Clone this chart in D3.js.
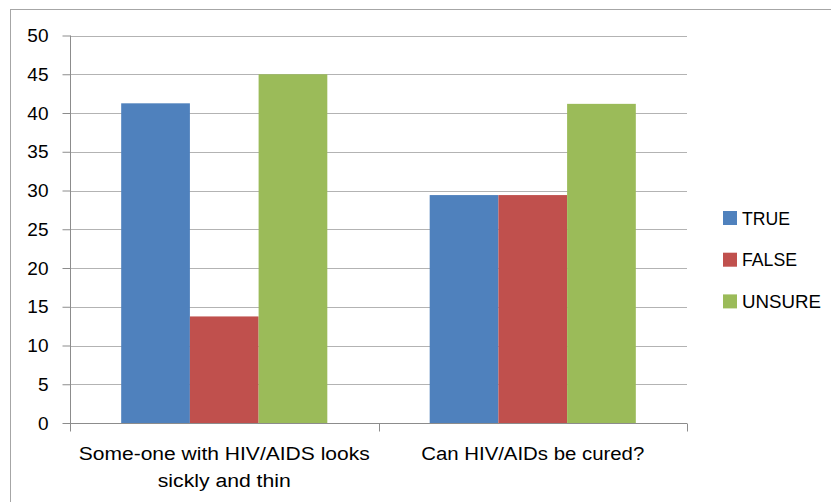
<!DOCTYPE html>
<html><head><meta charset="utf-8">
<script src="https://cdn.jsdelivr.net/npm/d3@7"></script>
<style>body{margin:0;background:#fff}svg{display:block}text{font-family:"Liberation Sans",Arial,sans-serif;fill:#000}</style>
</head><body><svg id="c" width="831" height="502"></svg>
<script>
const categories = [["Some-one with HIV/AIDS looks","sickly and thin"],["Can HIV/AIDs be cured?"]];
const seriesNames = ["TRUE","FALSE","UNSURE"];
const seriesColors = ["#4F81BD","#C0504D","#9BBB59"];
const trueVals = [41.25, 29.41];
const falseVals = [13.75, 29.41];
const unsureVals = [45, 41.18];
const yTicks = [0,5,10,15,20,25,30,35,40,45,50];
const labelWidths = [[291,133],[223]];
const legendWidths = [48,55,79];

const svg = d3.select("#c");
svg.append("rect").attr("x",10.5).attr("y",9.5).attr("width",830).attr("height",500)
  .attr("fill","#fff").attr("stroke","#a6a6a6");

const m = {l:70, r:687, t:35.5, b:423};
const y = d3.scaleLinear().domain([0,50]).range([m.b,m.t]);
const x0 = d3.scaleBand().domain(d3.range(categories.length)).range([m.l,m.r]).paddingInner(0).paddingOuter(0);
const x1 = d3.scaleBand().domain(d3.range(seriesNames.length)).range([0,x0.bandwidth()]).paddingOuter(0.745).paddingInner(0);

svg.append("g").selectAll("line").data(yTicks.filter(d=>d>0)).join("line")
  .attr("x1",m.l).attr("x2",m.r).attr("y1",d=>Math.round(y(d))+0.5).attr("y2",d=>Math.round(y(d))+0.5)
  .attr("stroke","#b3b3b3").attr("stroke-width",1);

const data = [trueVals,falseVals,unsureVals];
const g = svg.append("g");
categories.forEach((c,ci)=>{
  data.forEach((vals,si)=>{
    g.append("rect").attr("x",x0(ci)+x1(si)).attr("width",x1.bandwidth())
      .attr("y",y(vals[ci])).attr("height",y(0)-y(vals[ci]))
      .attr("fill",seriesColors[si]);
  });
});

const ya = svg.append("g").attr("transform",`translate(${m.l+0.5},0)`)
  .call(d3.axisLeft(y).tickValues(yTicks).tickSize(8).tickPadding(14));
ya.attr("font-size",null).attr("font-family",null);
ya.select(".domain").attr("stroke","#8c8c8c").attr("d",`M0,${m.t}V${m.b}`);
ya.selectAll(".tick line").attr("stroke","#8c8c8c");
ya.selectAll(".tick text").style("font-size","19px").attr("fill","#000");

const xa = svg.append("g").attr("transform",`translate(0,${Math.round(m.b)+0.5})`);
xa.append("line").attr("x1",m.l).attr("x2",m.r).attr("stroke","#8c8c8c");
const xt = [...d3.range(categories.length).map(i=>x0(i)), m.r];
xa.selectAll("line.t").data(xt).join("line").attr("class","t")
  .attr("x1",d=>Math.round(d)+0.5).attr("x2",d=>Math.round(d)+0.5).attr("y1",0).attr("y2",8).attr("stroke","#8c8c8c");
categories.forEach((lines,ci)=>{
  lines.forEach((ln,li)=>svg.append("text").attr("text-anchor","middle").style("font-size","18px")
    .attr("x",x0(ci)+x0.bandwidth()/2).attr("y",460+li*27)
    .attr("textLength",labelWidths[ci][li]).attr("lengthAdjust","spacingAndGlyphs").text(ln));
});

const lg = svg.append("g");
seriesNames.forEach((n,i)=>{
  const yy = 211 + i*41.7;
  lg.append("rect").attr("x",723).attr("y",yy).attr("width",14).attr("height",14).attr("fill",seriesColors[i]);
  lg.append("text").attr("x",742).attr("y",yy+13.5).style("font-size","17.5px")
    .attr("textLength",legendWidths[i]).attr("lengthAdjust","spacingAndGlyphs").text(n);
});
</script></body></html>
